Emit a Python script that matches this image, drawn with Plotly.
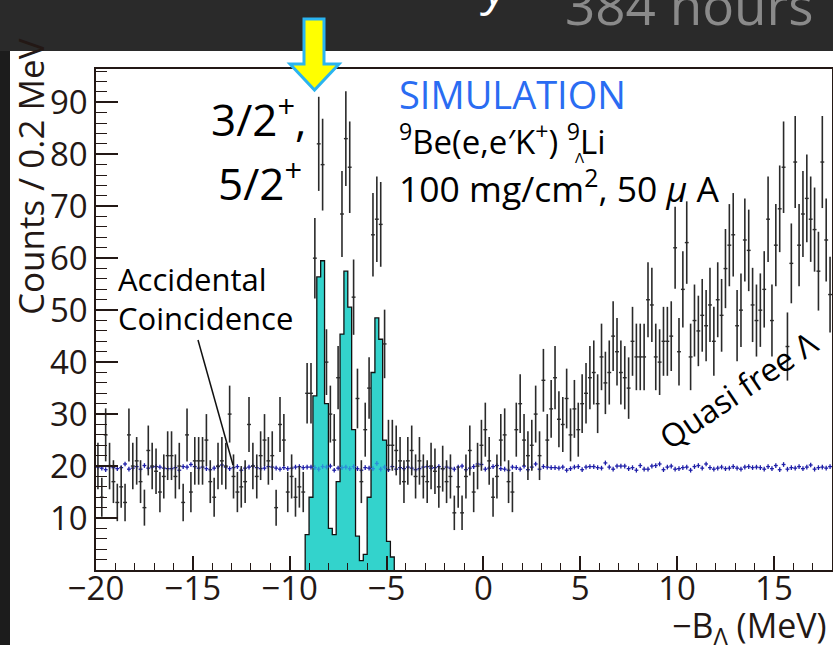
import numpy as np
import plotly.graph_objects as go

# ---------------- data ----------------
BIN = 0.2
X_MIN, X_MAX = -20.0, 18.0
Y_MAX = 96.4

# measured counts per 0.2 MeV bin, bins start at -20 MeV
counts = [
    20, 14, 26, 20, 17, 13, 16, 13, 26, 20,
    21, 17, 12, 23, 20, 19, 15, 18, 22, 22,
    18, 20, 13, 26, 15, 21, 21, 21, 25, 17,
    14, 20, 21, 20, 30, 18, 15, 16, 17, 28,
    20, 18, 22, 25, 21, 22, 12, 28, 25, 15,
    18, 14, 16, 15, 34, 34, 60, 82, 78, 40,
    30, 25, 37, 68.5, 83, 77.5, 52.5, 33, 17, 27,
    35, 64.5, 67.5, 66.5, 43.5, 24, 24, 23, 21, 17,
    21, 23, 18, 21, 18, 17, 20, 19, 16, 19.5,
    17, 18, 11, 16, 11, 18, 23, 15, 20, 24,
    27, 21, 14, 18, 25, 26, 17, 15, 27, 32,
    25, 22, 24, 30, 22, 36.5, 25, 31, 37, 29,
    28, 33, 26, 31, 27, 32, 34, 37, 38, 32,
    41, 36, 38, 45, 42, 38, 37, 35, 44, 41,
    41, 41, 52, 51, 41, 40, 44, 44, 45, 62,
    42, 54, 63, 41, 48, 46, 49, 47, 51, 44,
    52, 49, 58, 62.5, 64.5, 47, 50, 63.5, 61.5, 51,
    48, 50, 54, 67.5, 48, 62.5, 69.5, 77.5, 43, 59,
    78.5, 62.5, 68.5, 71.5, 67.5, 65.5, 57.5, 78.5, 63.5, 53,
]

# accidental coincidence estimate per bin
accidental = [
    19.8, 19.6, 19.3, 19.9, 19.7, 19.5, 19.7, 20.4, 19.4, 19.6,
    19.9, 19.4, 20.1, 19.6, 19.8, 19.9, 19.8, 19.6, 19.5, 19.5,
    19.7, 19.2, 19.9, 19.8, 20.3, 19.9, 19.6, 19.8, 19.5, 19.3,
    19.6, 19.9, 20.2, 19.8, 19.5, 19.7, 19.9, 19.2, 19.6, 19.8,
    20.0, 19.7, 19.5, 19.6, 19.9, 19.8, 19.6, 19.4, 19.7, 19.5,
    19.6, 19.8, 19.9, 19.7, 19.8, 19.8, 19.7, 19.4, 19.9, 19.8,
    20.0, 19.2, 19.6, 19.7, 19.8, 19.5, 19.9, 19.5, 19.2, 19.7,
    19.6, 19.5, 20.5, 19.4, 19.8, 19.3, 19.9, 19.4, 19.7, 19.5,
    19.8, 19.6, 19.3, 19.5, 19.8, 19.9, 19.6, 19.7, 19.9, 19.5,
    19.8, 19.6, 19.4, 19.8, 20.0, 19.3, 19.6, 19.9, 20.4, 20.3,
    19.4, 19.6, 19.9, 20.1, 19.5, 19.4, 19.2, 19.8, 19.7, 19.4,
    20.0, 19.3, 19.8, 20.4, 19.4, 19.9, 19.8, 19.7, 19.7, 19.6,
    19.8, 19.2, 19.5, 19.8, 19.9, 19.3, 19.8, 19.9, 19.9, 19.7,
    19.6, 20.6, 19.8, 19.4, 20.0, 20.0, 20.0, 19.5, 19.7, 19.2,
    20.1, 19.4, 19.4, 20.0, 20.1, 20.4, 19.3, 19.8, 20.0, 19.4,
    19.5, 19.7, 19.8, 19.2, 19.9, 20.1, 19.6, 20.4, 19.7, 19.4,
    19.6, 19.8, 19.5, 19.6, 19.9, 19.6, 19.4, 19.8, 19.9, 19.7,
    19.8, 19.7, 19.4, 19.9, 19.5, 20.1, 19.3, 20.3, 19.4, 19.7,
    19.6, 19.9, 19.5, 19.8, 20.2, 19.4, 19.7, 19.8, 19.6, 19.9,
]

# simulated hypernuclear signal (cyan histogram), bins start at -9.2 MeV
signal_start = -9.2
signal = [6.8, 14, 33.5, 56.4, 59.5, 32, 8, 6.8, 17, 45.4, 57.5, 50.6,
          27, 6.5, 1.8, 3, 14, 38, 48.5, 44.4, 25, 5.5, 2.5]

x_ticks = [-20, -15, -10, -5, 0, 5, 10, 15]
y_ticks = [10, 20, 30, 40, 50, 60, 70, 80, 90]

# ---------------- styling ----------------
FONT = "Open Sans"
INK = "#231815"
W, H = 833, 645
ML, MR, MT, MB = 96, 1, 69, 75
PW, PH = W - ML - MR, H - MT - MB


def px(x):
    return (x - ML) / PW


def py(y):
    return (H - MB - y) / PH


counts = np.array(counts, dtype=float)
accidental = np.array(accidental, dtype=float)
signal = np.array(signal, dtype=float)
centers = X_MIN + BIN * (np.arange(len(counts)) + 0.5)

sig_edges = signal_start + BIN * np.arange(len(signal) + 1)
sig_x = np.concatenate([[sig_edges[0]], sig_edges[:-1], [sig_edges[-1], sig_edges[-1]]])
sig_y = np.concatenate([[0], signal, [signal[-1], 0]])

# accidental points hidden behind the cyan fill look lighter
sig_at = np.zeros_like(accidental)
for k, v in enumerate(signal):
    m = (centers > sig_edges[k]) & (centers < sig_edges[k + 1])
    sig_at[m] = v
inside = sig_at > accidental

fig = go.Figure()

fig.add_trace(go.Scatter(
    x=sig_x, y=sig_y, mode="lines", line_shape="hv",
    line=dict(color="#111111", width=1.3),
    fill="tozeroy", fillcolor="#33d3cc", hoverinfo="skip", showlegend=False))

for mask, col in ((~inside, "#1e1ea8"), (inside, "#2c8fd8")):
    fig.add_trace(go.Scatter(
        x=centers[mask], y=accidental[mask], mode="markers",
        marker=dict(size=1, color="rgba(0,0,0,0)"),
        error_x=dict(type="constant", value=BIN / 2, width=0, thickness=1.3, color=col),
        error_y=dict(type="constant", value=0.45, width=0, thickness=1.3, color=col),
        showlegend=False, hoverinfo="skip"))

fig.add_trace(go.Scatter(
    x=centers, y=counts, mode="markers",
    marker=dict(size=1, color="rgba(0,0,0,0)"),
    error_x=dict(type="constant", value=BIN / 2, width=0, thickness=1.4, color="#2a2a2a"),
    error_y=dict(type="data", array=np.sqrt(counts), width=0, thickness=1.6, color="#2a2a2a"),
    showlegend=False, hoverinfo="skip"))

axis_common = dict(
    showline=True, linecolor=INK, linewidth=1.5, mirror=True,
    showgrid=False, zeroline=False, ticks="inside", tickcolor=INK, tickwidth=1.5,
    tickfont=dict(family=FONT, size=33, color=INK),
)
fig.update_xaxes(range=[X_MIN, X_MAX], tickmode="array", tickvals=x_ticks,
                 ticktext=["\u2212" + str(-v) if v < 0 else str(v) for v in x_ticks],
                 ticklen=14, ticklabelstandoff=-11,
                 minor=dict(tick0=0, dtick=1, ticks="inside", ticklen=7,
                            tickwidth=1.3, tickcolor=INK, showgrid=False),
                 **axis_common)
fig.update_yaxes(range=[0, Y_MAX], tickmode="array", tickvals=y_ticks,
                 ticktext=[str(v) for v in y_ticks], ticklen=22,
                 ticklabelstandoff=0,
                 minor=dict(tick0=0, dtick=2, ticks="inside", ticklen=11,
                            tickwidth=1.3, tickcolor=INK, showgrid=False),
                 **axis_common)

shapes = []
# dark slide band on top and dark strip on the left
shapes.append(dict(type="rect", xref="paper", yref="paper",
                   x0=px(0), x1=px(W), y0=py(51), y1=py(0),
                   fillcolor="#2a2a2a", line=dict(width=0), layer="above"))
shapes.append(dict(type="rect", xref="paper", yref="paper",
                   x0=px(0), x1=px(10), y0=py(H), y1=py(51),
                   fillcolor="#1c1c1c", line=dict(width=0), layer="above"))
# yellow block arrow
arrow_pts = [(304, 19), (324, 19), (324, 64), (339, 64), (314.5, 90), (290, 64), (304, 64)]
path = "M " + " L ".join(f"{px(a):.5f},{py(b):.5f}" for a, b in arrow_pts) + " Z"
shapes.append(dict(type="path", xref="paper", yref="paper", path=path,
                   fillcolor="#ffff00", line=dict(color="#2ab4f0", width=3), layer="above"))
# pointer line for the accidental label
shapes.append(dict(type="line", xref="paper", yref="paper",
                   x0=px(198), y0=py(340), x1=px(233), y1=py(465),
                   line=dict(color="#111111", width=1.5), layer="above"))


def ann(text, x, y, size, color="#000000", xanchor="left", yanchor="middle", angle=0, **kw):
    return dict(text=text, x=px(x), y=py(y), xref="paper", yref="paper",
                xanchor=xanchor, yanchor=yanchor, showarrow=False, textangle=angle,
                font=dict(family=FONT, size=size, color=color), **kw)


annotations = [
    ann("Counts / 0.2 MeV", 30, 177, 35, INK, xanchor="center", angle=-90),
    ann("SIMULATION", 397, 94, 38, "#2a6cf2"),
    ann("<sup>9</sup>Be(e,e\u2032K<sup>+</sup>) <sup>9</sup>Li", 397, 139, 33, "#000000"),
    ann("\u039b", 580, 157, 15, "#000000", xanchor="center"),
    ann("100 mg/cm<sup>2</sup>, 50 <i>\u03bc</i> A", 397, 186, 35.5, "#000000"),
    ann("3/2<sup>+</sup>,", 308, 117, 44, "#000000", xanchor="right"),
    ann("5/2<sup>+</sup>", 304, 181, 44, "#000000", xanchor="right"),
    ann("Accidental", 116, 279, 31, "#000000"),
    ann("Coincidence", 116, 318, 31, "#000000"),
    ann("Quasi free \u039b", 738, 389, 32, "#000000", xanchor="center", angle=-34),
    ann("\u2212B<sub>\u039b</sub> (MeV)", 829, 627, 34, INK, xanchor="right"),
    ann("384 hours", 563, 5, 53, "#8a8a8a"),
    ann("<i>y</i>", 478, -14, 48, "#ffffff"),
]

fig.update_layout(
    width=W, height=H, margin=dict(l=ML, r=MR, t=MT, b=MB, autoexpand=False),
    paper_bgcolor="#ffffff", plot_bgcolor="#ffffff",
    shapes=shapes, annotations=annotations, showlegend=False,
    font=dict(family=FONT, color=INK),
)

fig.write_html("out.html")
